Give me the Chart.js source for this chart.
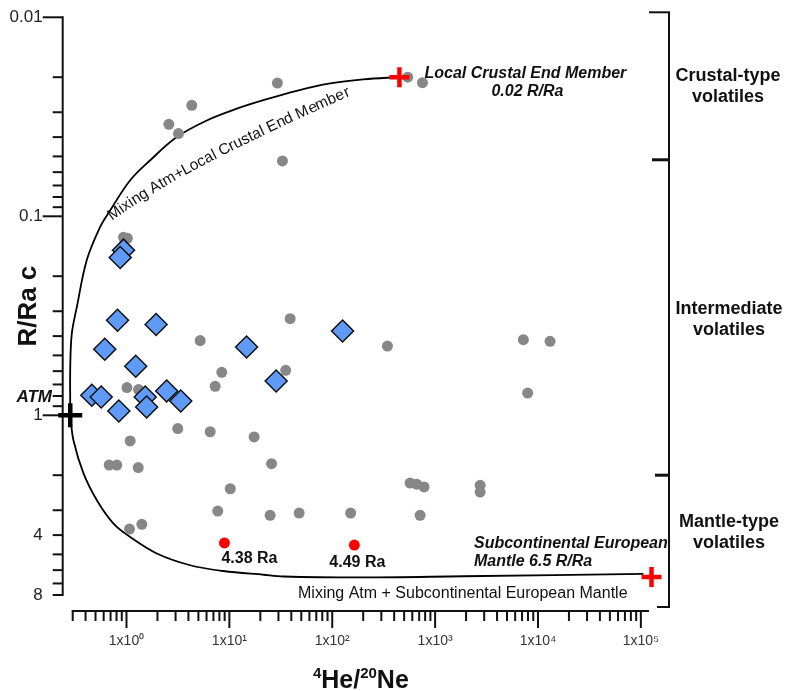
<!DOCTYPE html>
<html>
<head>
<meta charset="utf-8">
<script src="https://cdn.jsdelivr.net/npm/chart.js@4.4.0/dist/chart.umd.min.js"></script>
<style>
  html, body { margin: 0; padding: 0; background: #fff; }
  #wrap { width: 785px; height: 691px; }
</style>
</head>
<body>
<div id="wrap"><canvas id="he-ne-chart" width="785" height="691"></canvas></div>
<script>
// 4He/20Ne vs R/Ra c

// gray dots (other samples)
const grayX = [4.31, 2.58, 3.20, 0.935, 1.02, 29.3, 32.8, 542, 753, 5.20, 8.44, 7.28, 1.01, 1.31,
	3.15, 6.51, 17.4, 1.086, 0.679, 0.805, 1.30, 10.2, 7.71, 1.41, 1.07, 39.0, 344, 35.3, 25.7,
	571, 662, 781, 24.9, 47.7, 151, 715, 7210, 13100, 7940, 2740, 2740];
const grayY = [0.0277, 0.0345, 0.0384, 0.1275, 0.129, 0.0214, 0.0527, 0.0200, 0.0213, 0.421, 0.608, 0.715, 0.726, 0.743,
	1.166, 1.21, 1.285, 1.346, 1.78, 1.78, 1.83, 2.34, 3.03, 3.53, 3.73, 0.327, 0.449, 0.594, 1.75,
	2.19, 2.22, 2.29, 3.18, 3.10, 3.10, 3.18, 0.417, 0.425, 0.773, 2.25, 2.43];

// blue diamonds
const diamondX = [0.935, 0.869, 0.818, 1.94, 0.615, 1.23, 14.7, 0.460, 0.568, 1.52, 1.57, 2.46, 3.37, 0.842, 126, 28.5];
const diamondY = [0.148, 0.161, 0.333, 0.350, 0.466, 0.567, 0.454, 0.793, 0.809, 0.809, 0.908, 0.755, 0.847, 0.952, 0.377, 0.672];

// red dots (mantle-like samples)
const redX = [8.96, 164];
const redY = [4.38, 4.49];

// atmosphere and the two end members
const atmX = [0.284];
const atmY = [1];
const endMemberX = [450, 127000];
const endMemberY = [0.02, 6.5];

// mixing curves
const crustMixX = [0.284, 0.284, 0.294, 0.329, 0.411, 0.555, 0.695, 1.086, 1.70, 3.08, 6.03, 11.8, 21.4, 45.1, 95.4, 201, 424, 450];
const crustMixY = [1, 0.572, 0.389, 0.286, 0.166, 0.113, 0.0933, 0.0659, 0.0523, 0.0400, 0.0330, 0.0288, 0.0261, 0.0234, 0.0215, 0.0205, 0.0200, 0.0200];
const mantleMixX = [0.284, 0.305, 0.382, 0.515, 0.748, 1.086, 1.97, 4.16, 8.76, 21.4, 33.6, 201, 1884, 106000];
const mantleMixY = [1, 1.336, 1.96, 2.67, 3.50, 4.09, 4.95, 5.67, 6.06, 6.33, 6.46, 6.53, 6.44, 6.27];

// axes
const xMin = 0.3, xMax = 120000;
const yMin = 0.01, yMax = 8;
const xLabelValues = [1, 10, 100, 1000, 10000, 100000];
const xLabelTexts = ['1x10\u2070', '1x10\u00B9', '1x10\u00B2', '1x10\u00B3', '1x10\u2074', '1x10\u2075'];
const yLabelValues = [0.01, 0.1, 1, 4, 8];
const yLabelTexts = ['0.01', '0.1', '1', '4', '8'];
const yLongTicks = [0.01, 0.1, 1];

function logTicks(lo, hi, decades) {
	const out = [];
	decades.forEach(d => {
		for ( let m = 1; m <= 9; m++ ) {
			const v = +(m * d).toPrecision(6);
			if ( v >= lo && v <= hi ) out.push(v);
		}
	});
	return out;
}
const xTickValues = logTicks(xMin, 100000, [0.1, 1, 10, 100, 1000, 10000, 100000]);
const yTickValues = logTicks(yMin, yMax, [0.01, 0.1, 1]);

function toPoints(xs, ys) {
	return xs.map((x, i) => ({ x: x, y: ys[i] }));
}

const FONT = "'Liberation Sans', Arial, Helvetica, sans-serif";

function line(ctx, x1, y1, x2, y2) {
	ctx.beginPath();
	ctx.moveTo(x1, y1);
	ctx.lineTo(x2, y2);
	ctx.stroke();
}

function text(ctx, str, x, y, font, align) {
	ctx.font = font;
	ctx.textAlign = align || 'center';
	ctx.textBaseline = 'middle';
	ctx.fillText(str, x, y);
}

// write a string along a quadratic curve, one glyph at a time
function textOnCurve(ctx, str, p0, p1, p2) {
	const samples = [];
	let len = 0;
	let prev = null;
	for ( let i = 0; i <= 300; i++ ) {
		const t = i / 300;
		const x = (1 - t) * (1 - t) * p0.x + 2 * (1 - t) * t * p1.x + t * t * p2.x;
		const y = (1 - t) * (1 - t) * p0.y + 2 * (1 - t) * t * p1.y + t * t * p2.y;
		if ( prev ) len += Math.hypot(x - prev.x, y - prev.y);
		samples.push({ x: x, y: y, len: len });
		prev = { x: x, y: y };
	}
	ctx.textAlign = 'center';
	ctx.textBaseline = 'alphabetic';
	let dist = 0;
	for ( const ch of str ) {
		const w = ctx.measureText(ch).width;
		const mid = dist + w / 2;
		let k = samples.findIndex(s => s.len >= mid);
		if ( k < 1 ) k = k === 0 ? 1 : samples.length - 1;
		const a = samples[k - 1], b = samples[k];
		const ang = Math.atan2(b.y - a.y, b.x - a.x);
		const over = Math.max(0, mid - b.len); // run past the end along the last tangent
		ctx.save();
		ctx.translate(b.x + over * Math.cos(ang), b.y + over * Math.sin(ang));
		ctx.rotate(ang);
		ctx.fillText(ch, 0, 0);
		ctx.restore();
		dist += w;
	}
}

// axis lines and tick marks drawn off the plot edge, like the original figure
const offsetAxes = {
	id: 'offsetAxes',
	beforeDatasetsDraw(chart) {
		const { ctx, scales: { x, y } } = chart;
		const axisX = x.left - 10;   // vertical axis line
		const axisY = y.bottom + 16; // horizontal axis line
		ctx.save();
		ctx.strokeStyle = '#111';
		ctx.lineWidth = 2;

		line(ctx, axisX, y.getPixelForValue(yMin) - 1, axisX, y.getPixelForValue(yMax) + 1);
		yTickValues.forEach(v => {
			const py = y.getPixelForValue(v);
			const len = yLongTicks.includes(v) ? 20 : 10;
			line(ctx, axisX - len, py, axisX, py);
		});

		line(ctx, x.getPixelForValue(xMin) - 1, axisY, x.getPixelForValue(xMax), axisY);
		xTickValues.forEach(v => {
			const px = x.getPixelForValue(v);
			const len = xLabelValues.includes(v) ? 17 : 10;
			line(ctx, px, axisY, px, axisY + len);
		});

		// x axis title with raised mass numbers
		ctx.fillStyle = '#111';
		ctx.textBaseline = 'alphabetic';
		ctx.textAlign = 'left';
		const big = 'bold 25px ' + FONT, small = 'bold 15px ' + FONT;
		const parts = [['4', small, -10], ['He/', big, 0], ['20', small, -10], ['Ne', big, 0]];
		let total = 0;
		parts.forEach(p => { ctx.font = p[1]; total += ctx.measureText(p[0]).width; });
		let tx = (x.left + x.right) / 2 - total / 2;
		const base = chart.height - 3;
		parts.forEach(p => {
			ctx.font = p[1];
			ctx.fillText(p[0], tx, base + p[2]);
			tx += ctx.measureText(p[0]).width;
		});
		ctx.restore();
	}
};

const notes = {
	id: 'notes',
	afterDatasetsDraw(chart) {
		const { ctx, scales: { x, y } } = chart;
		ctx.save();
		ctx.fillStyle = '#111';

		// ATM marker label
		text(ctx, 'ATM', 52, y.getPixelForValue(0.8) + 1, 'italic bold 17px ' + FONT, 'right');

		// end members
		const cx = x.getPixelForValue(endMemberX[0]);
		const cy = y.getPixelForValue(endMemberY[0]);
		text(ctx, 'Local Crustal End Member', cx + 126, cy - 4, 'italic bold 16px ' + FONT);
		text(ctx, '0.02 R/Ra', cx + 128, cy + 14, 'italic bold 16px ' + FONT);

		const my = y.getPixelForValue(endMemberY[1]);
		text(ctx, 'Subcontinental European', 474, my - 33, 'italic bold 16px ' + FONT, 'left');
		text(ctx, 'Mantle 6.5 R/Ra', 474, my - 15, 'italic bold 16px ' + FONT, 'left');

		// red dot values
		text(ctx, '4.38 Ra', x.getPixelForValue(redX[0]) + 25, y.getPixelForValue(redY[0]) + 16, 'bold 16px ' + FONT);
		text(ctx, '4.49 Ra', x.getPixelForValue(redX[1]) + 3, y.getPixelForValue(redY[1]) + 18, 'bold 16px ' + FONT);

		// mixing curve names
		text(ctx, 'Mixing Atm + Subcontinental European Mantle', 298, my + 17, '16px ' + FONT, 'left');
		ctx.font = '15.5px ' + FONT;
		textOnCurve(ctx, 'Mixing Atm+Local Crustal End Member',
			{ x: 112, y: 221 }, { x: 176, y: 172 }, { x: 352, y: 95 });

		// volatile-type bracket on the right
		ctx.strokeStyle = '#111';
		ctx.lineWidth = 2;
		const bx = 669;
		const yTop = y.getPixelForValue(yMin) - 5;
		const yB1 = y.getPixelForValue(0.052);
		const yB2 = y.getPixelForValue(2);
		const yBot = y.bottom + 12;
		line(ctx, bx, yTop, bx, yBot);
		line(ctx, bx - 20, yTop, bx + 1, yTop);
		line(ctx, bx - 12, yBot, bx + 1, yBot);
		ctx.lineWidth = 3;
		line(ctx, bx - 17, yB1, bx, yB1);
		line(ctx, bx - 14, yB2, bx, yB2);

		const lf = 'bold 18px ' + FONT;
		text(ctx, 'Crustal-type', 728, 76, lf);
		text(ctx, 'volatiles', 728, 97, lf);
		text(ctx, 'Intermediate', 729, 309, lf);
		text(ctx, 'volatiles', 729, 330, lf);
		text(ctx, 'Mantle-type', 729, 522, lf);
		text(ctx, 'volatiles', 729, 543, lf);
		ctx.restore();
	}
};

Chart.defaults.font.family = FONT;
Chart.defaults.color = '#222';

const ctx = document.getElementById('he-ne-chart');

new Chart(ctx, {
	type: 'scatter',
	data: {
		datasets: [
			{
				label: 'ATM',
				data: toPoints(atmX, atmY),
				pointStyle: 'cross',
				pointRadius: 12,
				borderColor: '#000',
				borderWidth: 4.5,
				clip: false
			},
			{
				label: 'End members',
				data: toPoints(endMemberX, endMemberY),
				pointStyle: 'cross',
				pointRadius: 10,
				borderColor: '#ff0000',
				borderWidth: 4.5,
				clip: false
			},
			{
				label: 'Mantle samples',
				data: toPoints(redX, redY),
				pointRadius: 5.5,
				backgroundColor: '#ff0000',
				borderWidth: 0
			},
			{
				label: 'Diamonds',
				data: toPoints(diamondX, diamondY),
				pointStyle: 'rectRot',
				pointRadius: 11,
				backgroundColor: '#5f9bf6',
				borderColor: '#111',
				borderWidth: 1.5
			},
			{
				label: 'Samples',
				data: toPoints(grayX, grayY),
				pointRadius: 5.5,
				backgroundColor: '#878787',
				borderWidth: 0,
				clip: false
			},
			{
				label: 'Mixing Atm+Local Crustal End Member',
				data: toPoints(crustMixX, crustMixY),
				showLine: true,
				pointRadius: 0,
				borderColor: '#000',
				borderWidth: 1.8,
				tension: 0.35,
				clip: false
			},
			{
				label: 'Mixing Atm + Subcontinental European Mantle',
				data: toPoints(mantleMixX, mantleMixY),
				showLine: true,
				pointRadius: 0,
				borderColor: '#000',
				borderWidth: 1.8,
				tension: 0.35,
				clip: false
			}
		]
	},
	options: {
		responsive: false,
		animation: false,
		events: [],
		layout: {
			padding: { top: 17.3, right: 136, bottom: 0, left: 0 }
		},
		plugins: {
			legend: { display: false },
			tooltip: { enabled: false }
		},
		scales: {
			x: {
				type: 'logarithmic',
				bounds: 'data',
				border: { display: false },
				grid: { display: false, drawTicks: false },
				// range set here (not min/max) so the curves' first points left of 0.3 still get drawn
				afterDataLimits: s => { s.min = xMin; s.max = xMax; },
				afterBuildTicks: s => { s.ticks = xTickValues.map(v => ({ value: v })); },
				afterFit: s => {
					s.height = 96;
					s.paddingLeft = 0;
					s.paddingRight = 0;
					s.paddingTop = 0;
					s.paddingBottom = 0;
				},
				ticks: {
					autoSkip: false,
					maxRotation: 0,
					padding: 38,
					color: '#333',
					font: { size: 14 },
					callback: v => {
						const i = xLabelValues.indexOf(v);
						return i >= 0 ? xLabelTexts[i] : '';
					}
				},
				title: { display: false }
			},
			y: {
				type: 'logarithmic',
				min: yMin,
				max: yMax,
				reverse: true,
				border: { display: false },
				grid: { display: false, drawTicks: false },
				afterBuildTicks: s => { s.ticks = yTickValues.map(v => ({ value: v })); },
				afterFit: s => {
					s.width = 72.7;
					s.paddingLeft = 0;
					s.paddingRight = 0;
					s.paddingTop = 0;
					s.paddingBottom = 0;
				},
				ticks: {
					autoSkip: false,
					padding: 30,
					color: '#222',
					font: { size: 17 },
					callback: v => {
						const i = yLabelValues.indexOf(v);
						return i >= 0 ? yLabelTexts[i] : '';
					}
				},
				title: {
					display: true,
					text: 'R/Ra c',
					color: '#111',
					font: { size: 26, weight: 'bold' },
					padding: { top: 13, bottom: 0 }
				}
			}
		}
	},
	plugins: [offsetAxes, notes]
});
</script>
</body>
</html>
